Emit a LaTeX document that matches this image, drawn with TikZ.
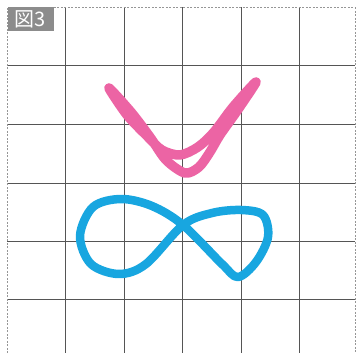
\documentclass[tikz,border=0pt]{standalone}
\usepackage{fontspec}
\newfontfamily\cjk{Noto Sans CJK JP}
\definecolor{gridc}{RGB}{85,85,85}
\definecolor{edgec}{RGB}{150,150,150}
\definecolor{labelbg}{RGB}{140,140,140}
\definecolor{pinkc}{RGB}{236,100,164}
\definecolor{bluec}{RGB}{24,166,224}
\tikzset{
  gridline/.style={draw=gridc, line width=1pt},
  edgeline/.style={draw=edgec, line width=0.9pt, dash pattern=on 2pt off 1.5pt},
  pinkstroke/.style={draw=pinkc, line width=9.5pt, line cap=round, line join=round},
  bluestroke/.style={draw=bluec, line width=8.5pt, line cap=round, line join=round},
}
\begin{document}
\begin{tikzpicture}[x=1pt, y=-1pt]
\useasboundingbox (0,0) rectangle (356,353);
\fill[white] (0,0) rectangle (356,353);
% grid
\foreach \x in {65.5,124,182.5,241,299.5} \draw[gridline] (\x,7.5) -- (\x,353);
\foreach \y in {66,124.5,183,241,299.5} \draw[gridline] (7.3,\y) -- (355,\y);
\draw[edgeline] (7.3,353) -- (7.3,7.5) -- (355,7.5) -- (355,353);
% label
\node[fill=labelbg, text=white, inner sep=0pt, minimum width=46pt, minimum height=24pt, anchor=north west, font=\cjk\fontsize{20}{20}\selectfont] (lab) at (7.3,7.3) {図3};
% pink V (one stroke traced down and back)
\draw[pinkstroke] plot[smooth cycle, tension=0.5] coordinates {(109,88) (131,112) (150,137) (166,160) (185,173) (199,167) (210,152) (220,135) (237,111) (256,82) (233,107) (214,132) (198,147) (180,155) (162,150) (147,136) (127,115)};
% blue figure eight
\draw[bluestroke] plot[smooth cycle, tension=0.55] coordinates {(183,225) (152,206) (121,199) (93,207) (80,236) (91,264) (119,274) (146,264) (183,225) (212,213) (241,210) (263,215) (268,237) (256,262) (238,277) (222,264)};
\end{tikzpicture}
\end{document}
